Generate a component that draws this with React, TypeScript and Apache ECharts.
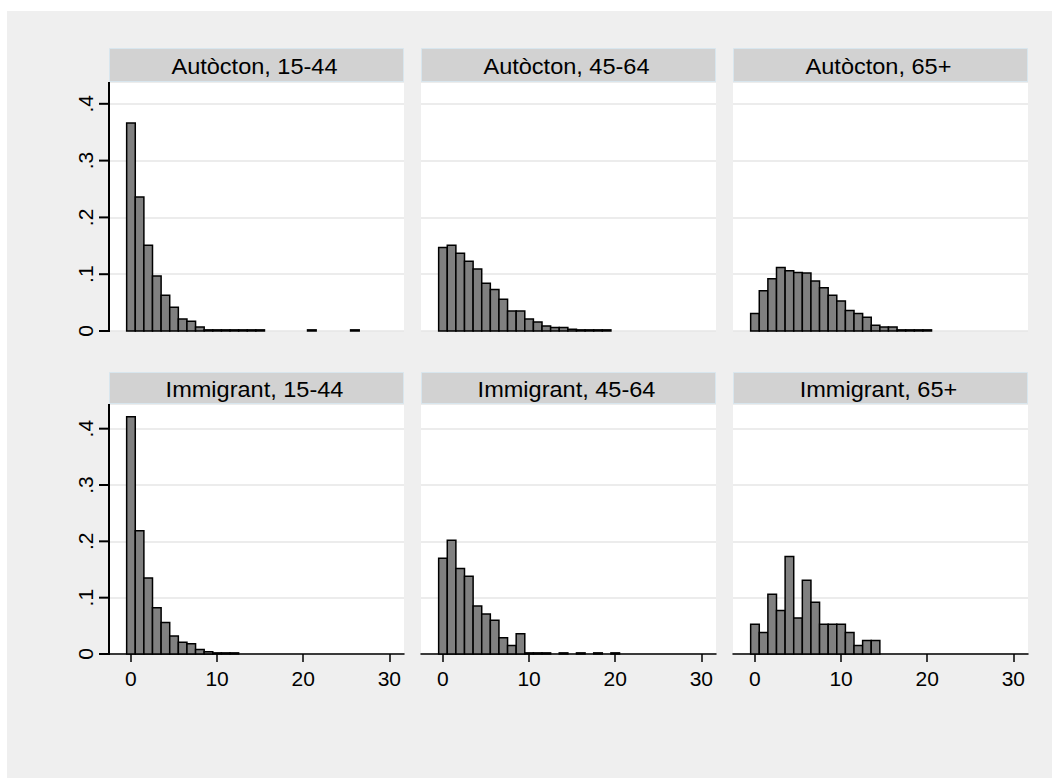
import React, { useEffect, useRef } from "react";
import * as echarts from "echarts";

const panelTitles = [
  "Autòcton, 15-44",
  "Autòcton, 45-64",
  "Autòcton, 65+",
  "Immigrant, 15-44",
  "Immigrant, 45-64",
  "Immigrant, 65+",
];

const autoctonYoung = [0.366, 0.236, 0.151, 0.097, 0.063, 0.042, 0.021, 0.017, 0.007, 0.002, 0.002, 0.002, 0.002, 0.002, 0.002, 0.002, 0, 0, 0, 0, 0, 0.002, 0, 0, 0, 0, 0.002];
const autoctonMid = [0.147, 0.151, 0.137, 0.123, 0.109, 0.084, 0.073, 0.056, 0.035, 0.035, 0.021, 0.016, 0.009, 0.006, 0.006, 0.003, 0.002, 0.002, 0.002, 0.002];
const autoctonOld = [0.031, 0.071, 0.092, 0.112, 0.106, 0.103, 0.102, 0.088, 0.076, 0.063, 0.053, 0.036, 0.031, 0.024, 0.010, 0.007, 0.007, 0.002, 0.002, 0.002, 0.002];
const immigrantYoung = [0.421, 0.219, 0.135, 0.082, 0.056, 0.032, 0.021, 0.018, 0.008, 0.004, 0.002, 0.002, 0.002];
const immigrantMid = [0.170, 0.202, 0.152, 0.138, 0.085, 0.071, 0.060, 0.029, 0.015, 0.036, 0.002, 0.002, 0.002, 0, 0.002, 0, 0.002, 0, 0.002, 0, 0.002];
const immigrantOld = [0.053, 0.038, 0.106, 0.077, 0.173, 0.064, 0.131, 0.092, 0.053, 0.053, 0.053, 0.038, 0.015, 0.024, 0.024];

const panelValues = [autoctonYoung, autoctonMid, autoctonOld, immigrantYoung, immigrantMid, immigrantOld];

const xTicks = [0, 10, 20, 30];
const yTicks = [0, 0.1, 0.2, 0.3, 0.4];

const FONT = "Liberation Sans, Arial, sans-serif";

export default function App() {
  const ref = useRef<HTMLDivElement>(null);

  useEffect(() => {
    if (!ref.current) return;
    const chart = echarts.init(ref.current, null, { renderer: "svg" });

    const colLeft = [109, 421, 733];
    const plotW = 295;
    const rowTop = [82, 404];
    const rowH = [249, 250];
    const rowMax = [0.4384, 0.4438];
    const headerTop = [48, 372];
    const xMin = -2.55;
    const xMax = 31.7;

    const grids: any[] = [];
    const xAxes: any[] = [];
    const yAxes: any[] = [];
    const series: any[] = [];
    const graphics: any[] = [
      { type: "rect", shape: { x: 0, y: 0, width: 1052, height: 11 }, style: { fill: "#ffffff" }, silent: true },
      { type: "rect", shape: { x: 0, y: 0, width: 7, height: 778 }, style: { fill: "#ffffff" }, silent: true },
    ];

    for (let r = 0; r < 2; r++) {
      for (let c = 0; c < 3; c++) {
        const i = r * 3 + c;
        grids.push({
          left: colLeft[c],
          top: rowTop[r],
          width: plotW,
          height: rowH[r],
          show: true,
          backgroundColor: "#ffffff",
          borderWidth: 0,
        });
        const bottomRow = r === 1;
        xAxes.push({
          type: "value",
          gridIndex: i,
          position: "bottom",
          min: xMin,
          max: xMax,
          axisLine: { show: bottomRow, onZero: false, lineStyle: { color: "#000", width: 1.5 } },
          axisTick: {
            show: bottomRow,
            customValues: xTicks,
            length: 8,
            lineStyle: { color: "#000", width: 1.5 },
          },
          axisLabel: {
            show: bottomRow,
            customValues: xTicks,
            color: "#000",
            fontSize: 21,
            fontFamily: FONT,
            margin: 14,
          },
          splitLine: { show: false },
        });
        const leftCol = c === 0;
        yAxes.push({
          type: "value",
          gridIndex: i,
          position: "left",
          min: 0,
          max: rowMax[r],
          interval: 0.1,
          axisLine: { show: false, onZero: false },
          axisTick: { show: false },
          axisLabel: {
            show: leftCol,
            customValues: yTicks,
            rotate: 90,
            color: "#000",
            fontSize: 21,
            fontFamily: FONT,
            margin: 13,
            formatter: (v: number) => (v === 0 ? "0" : "." + Math.round(v * 10)),
          },
          splitLine: { show: true, lineStyle: { color: "#e6e6e6", width: 1.5 } },
        });
        const data = panelValues[i]
          .map((v, k) => [k, v])
          .filter((d) => d[1] > 0);
        series.push({
          type: "custom",
          xAxisIndex: i,
          yAxisIndex: i,
          data,
          clip: false,
          z: 2,
          renderItem: (params: any, api: any) => {
            const x = api.value(0);
            const y = api.value(1);
            const p0 = api.coord([x - 0.5, y]);
            const p1 = api.coord([x + 0.5, 0]);
            return {
              type: "rect",
              shape: { x: p0[0], y: p0[1], width: p1[0] - p0[0], height: p1[1] - p0[1] },
              style: { fill: "#808080", stroke: "#000", lineWidth: 1.5 },
            };
          },
        });
        const hTop = headerTop[r];
        const hH = rowTop[r] - hTop;
        graphics.push({
          type: "rect",
          z: 10,
          shape: { x: colLeft[c] + 0.5, y: hTop + 0.5, width: plotW - 1, height: hH - 1 },
          style: { fill: "#d2d2d2", stroke: "#d8e6ee", lineWidth: 1 },
          silent: true,
        });
        graphics.push({
          type: "text",
          z: 11,
          x: colLeft[c] + plotW / 2 - 2,
          y: hTop + hH / 2 + 1,
          scaleX: 1.07,
          style: {
            text: panelTitles[i],
            fill: "#000",
            fontSize: 22,
            fontFamily: FONT,
            textAlign: "center",
            textVerticalAlign: "middle",
          },
          silent: true,
        });
      }
    }

    chart.setOption({
      animation: false,
      backgroundColor: "#efefef",
      textStyle: { fontFamily: FONT },
      grid: grids,
      xAxis: xAxes,
      yAxis: yAxes,
      series,
    });

    // y axis line and ticks of the left column, placed through the axis scales (drawn as filled rects)
    const AX = "#000000";
    for (let r = 0; r < 2; r++) {
      const gi = r * 3;
      const finder = { xAxisIndex: gi, yAxisIndex: gi } as any;
      const top = chart.convertToPixel(finder, [xMin, rowMax[r]]) as any;
      const bot = chart.convertToPixel(finder, [xMin, 0]) as any;
      graphics.push({
        type: "rect",
        z: 50,
        shape: { x: top[0] - 1, y: top[1], width: 2, height: bot[1] - top[1] + 1 },
        style: { fill: AX },
        silent: true,
      });
      yTicks.forEach((v) => {
        const p = chart.convertToPixel(finder, [xMin, v]) as any;
        graphics.push({
          type: "rect",
          z: 50,
          shape: { x: p[0] - 10, y: p[1] - 1, width: 10, height: 2 },
          style: { fill: AX },
          silent: true,
        });
      });
    }

    chart.setOption({ graphic: graphics });

    return () => chart.dispose();
  }, []);

  return (
    <div
      ref={ref}
      style={{ position: "absolute", left: 0, top: 0, width: 1052, height: 778 }}
    />
  );
}
